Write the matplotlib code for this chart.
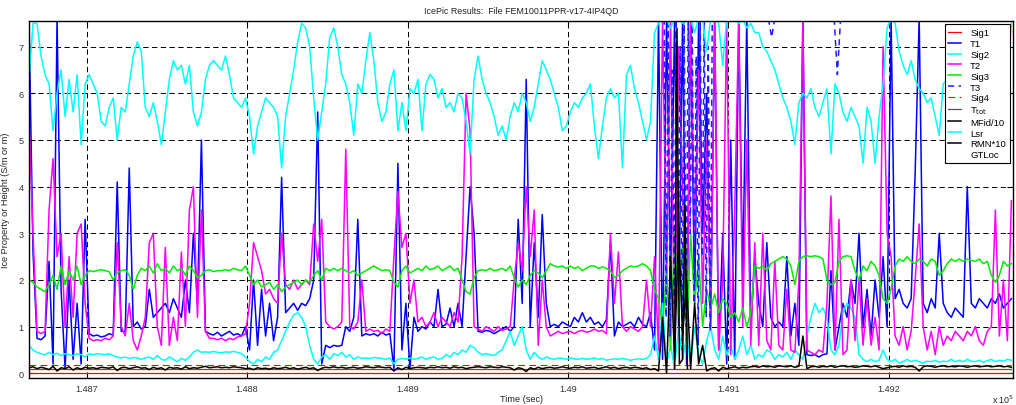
import numpy as np
import matplotlib
matplotlib.use("Agg")
import matplotlib.pyplot as plt
from matplotlib.ticker import FuncFormatter

plt.rcParams['font.family'] = ['Liberation Sans', 'DejaVu Sans']

# Sample grid (seconds)
t0 = 148664.0
dt = 2.5

lsr = [
    6.3, 7.5, 7.5, 6.8, 6.4, 6.2, 5.2, 6.0, 6.5, 5.5,
    6.3, 5.6, 6.4, 4.9, 6.2, 6.4, 6.2, 6.0, 5.4, 5.3,
    5.7, 5.9, 5.0, 5.7, 5.6, 6.2, 6.8, 7.1, 6.9, 5.7,
    5.5, 5.8, 5.4, 4.9, 5.6, 6.3, 6.7, 6.5, 6.6, 6.2,
    6.6, 5.6, 5.3, 5.6, 6.3, 6.6, 6.7, 6.6, 6.5, 6.8,
    6.4, 5.9, 5.8, 5.7, 5.9, 5.5, 4.7, 5.3, 5.6, 5.9,
    5.8, 5.7, 5.5, 4.4, 5.5, 6.0, 6.5, 7.1, 7.5, 7.4,
    7.0, 5.9, 5.0, 5.6, 6.2, 7.2, 7.4, 7.0, 6.4, 6.2,
    5.8, 5.1, 6.2, 6.0, 6.7, 7.3, 6.7, 5.8, 5.4, 5.6,
    6.2, 6.5, 5.2, 5.8, 5.2, 6.1, 6.0, 6.3, 5.2, 6.2,
    6.4, 6.3, 5.9, 6.1, 5.7, 5.8, 5.6, 6.0, 5.9, 5.4,
    4.7, 6.3, 6.8, 6.3, 6.0, 5.8, 5.5, 5.1, 5.3, 5.0,
    5.5, 5.8, 5.6, 6.0, 5.8, 5.4, 5.7, 6.2, 6.7, 6.5,
    6.3, 6.0, 5.7, 5.2, 5.3, 5.6, 5.8, 5.7, 5.9, 6.0,
    6.2, 5.3, 4.6, 5.3, 5.9, 6.1, 5.9, 6.0, 4.4, 6.4,
    6.6, 6.1, 5.8, 5.4, 5.0, 5.4, 7.3, 7.5, 7.6, 7.6,
    7.4, 7.6, 7.6, 7.5, 7.6, 7.6, 7.3, 7.6, 7.6, 6.9,
    7.6, 7.6, 7.5, 6.6, 7.6, 7.6, 7.6, 7.5, 7.6, 7.4,
    7.5, 7.3, 7.3, 7.0, 6.9, 6.7, 6.5, 6.2, 5.9, 5.7,
    5.4, 4.9, 5.8, 6.0, 5.9, 6.1, 5.7, 5.5, 5.8, 6.1,
    4.7, 6.2, 6.0, 5.6, 5.4, 5.7, 5.5, 5.3, 4.5, 5.7,
    5.4, 4.5, 5.5, 6.2, 7.4, 7.6, 7.5, 6.9, 6.6, 6.4,
    6.7, 6.3, 6.1, 6.0, 5.8, 5.9, 5.5, 5.1, 6.2, 6.3,
    5.9, 6.0, 5.8, 6.1, 5.9, 6.0, 5.7, 6.2, 6.0, 5.9,
    6.1, 5.8, 6.0, 6.0, 6.3, 7.5,
]

t2 = [
    5.4, 3.0, 0.9, 0.85, 0.9, 3.5, 4.6, 2.5, 3.0, 1.0,
    2.5, 1.2, 3.0, 3.2, 1.5, 0.75, 0.7, 0.72, 0.7, 0.75,
    0.72, 0.8, 2.8, 1.0, 0.8, 1.5, 0.7, 0.5, 0.8, 1.2,
    2.8, 3.0, 1.0, 0.6, 2.7, 0.6, 1.2, 0.7, 2.6, 1.0,
    3.5, 4.0, 1.2, 3.5, 0.9, 0.75, 0.75, 0.72, 0.75, 0.7,
    0.75, 0.72, 0.78, 0.8, 0.85, 1.5, 2.8, 2.5, 2.2, 1.7,
    1.8, 1.6, 1.5, 3.0, 1.9, 1.8, 2.0, 1.8, 1.9, 2.0,
    1.9, 3.2, 2.4, 3.3, 1.1, 1.0, 0.95, 1.0, 1.1, 4.8,
    1.0, 0.95, 1.1, 2.0, 0.9, 0.95, 0.9, 0.92, 0.85, 0.95,
    0.9, 2.5, 3.9, 2.7, 3.0, 1.5, 2.0, 1.1, 1.2, 1.0,
    1.1, 1.3, 1.0, 1.2, 1.1, 1.0, 1.3, 1.1, 2.5, 6.0,
    5.2, 1.0, 0.95, 0.9, 1.0, 0.95, 0.9, 1.0, 0.92, 0.95,
    1.0, 2.0, 2.8, 2.2, 4.0, 2.5, 3.5, 0.6, 2.0, 1.0,
    0.8, 0.85, 0.9, 0.85, 0.88, 0.9, 0.85, 0.9, 0.92, 0.88,
    0.9, 0.95, 0.9, 0.92, 0.85, 3.0, 1.5, 2.6, 1.0, 0.9,
    1.0, 0.95, 0.9, 1.0, 2.0, 1.0, 2.5, 0.5, 7.6, 2.0,
    7.6, 0.3, 7.0, 4.0, 0.5, 7.6, 3.0, 6.5, 1.5, 5.0,
    1.2, 7.6, 0.5, 2.0, 7.6, 0.4, 3.5, 7.6, 1.0, 5.0,
    0.6, 2.8, 0.6, 3.0, 0.7, 0.5, 2.4, 0.6, 0.5, 1.8,
    0.5, 0.45, 2.0, 7.6, 0.5, 0.45, 0.4, 0.5, 0.45, 1.5,
    3.8, 0.5, 3.3, 0.4, 0.5, 2.0, 0.7, 2.0, 0.6, 1.6,
    0.6, 1.2, 0.5, 7.0, 3.0, 2.5, 0.8, 0.6, 1.0, 0.5,
    0.9, 2.0, 3.2, 1.0, 0.5, 0.9, 0.4, 1.0, 0.6, 0.8,
    0.7, 0.9, 0.8, 0.7, 0.9, 0.8, 1.0, 0.7, 0.6, 0.9,
    1.0, 3.5, 0.8, 2.0, 0.7, 3.7,
]

t1 = [
    7.6, 2.6, 0.75, 0.72, 0.8, 2.4, 0.2, 7.6, 1.8, 0.1,
    2.0, 0.3, 1.5, 0.2, 3.3, 0.85, 0.8, 0.82, 0.78, 0.8,
    0.85, 0.82, 4.1, 0.9, 0.9, 4.4, 1.0, 1.1, 0.95, 1.0,
    1.8, 1.2, 1.3, 1.4, 1.5, 1.3, 1.6, 1.4, 1.2, 2.0,
    1.3, 3.0, 1.5, 5.0, 0.9, 0.85, 0.82, 0.88, 0.8, 0.85,
    0.9, 0.82, 0.85, 0.8, 1.0, 0.5, 2.0, 0.6, 1.8, 0.8,
    1.5, 0.7, 1.2, 4.2, 1.3, 1.4, 1.5, 1.35, 1.5, 1.45,
    1.6, 2.0, 5.6, 0.2, 0.6, 0.55, 0.6, 0.58, 0.6, 1.0,
    0.9, 1.2, 3.3, 0.8, 0.85, 0.82, 0.85, 0.8, 0.88, 0.82,
    0.85, 0.1, 4.5, 0.5, 1.5, 0.1, 1.2, 0.9, 1.0, 0.95,
    1.1, 1.0, 1.8, 1.0, 1.05, 1.4, 1.0, 1.5, 1.0, 2.5,
    4.0, 3.0, 0.9, 0.88, 0.92, 0.9, 0.85, 0.9, 0.95, 1.0,
    0.9, 1.0, 3.3, 1.5, 6.3, 1.0, 2.8, 1.2, 3.4, 1.5,
    1.0, 1.05, 1.0, 1.1, 1.05, 1.0, 1.2, 1.1, 1.3, 1.1,
    1.2, 1.05, 1.1, 1.0, 1.15, 2.8, 0.8, 1.1, 1.0, 1.05,
    1.1, 1.0, 1.2, 1.05, 1.0, 1.3, 0.5, 7.6, 0.3, 7.6,
    2.0, 7.6, 1.0, 7.6, 0.2, 7.6, 1.5, 7.6, 3.0, 6.0,
    1.0, 7.6, 0.5, 3.0, 0.2, 5.0, 0.3, 7.6, 2.0, 7.6,
    1.0, 2.5, 1.5, 1.0, 2.8, 1.2, 1.0, 1.1, 1.0, 2.5,
    0.8, 1.5, 0.6, 7.6, 0.4, 0.38, 0.4, 0.35, 0.4, 0.42,
    2.2, 0.5, 1.0, 1.5, 1.2, 2.0, 1.5, 3.0, 1.0, 1.8,
    0.8, 2.0, 1.2, 2.5, 1.0, 7.6, 1.6, 1.8, 1.5, 1.4,
    1.6, 4.3, 7.6, 1.5, 1.3, 1.6, 1.4, 3.0, 1.5, 1.3,
    1.2, 1.4, 1.3, 1.2, 4.0, 1.5, 1.4, 1.6, 1.5, 1.4,
    1.6, 1.5, 1.7, 1.4, 1.5, 1.6,
]

sig3 = [
    2.0, 1.95, 1.85, 1.8, 1.75, 1.9, 2.1, 1.8, 2.3, 1.9,
    2.2, 2.0, 2.3, 1.9, 2.1, 2.2, 2.18, 2.2, 2.22, 2.2,
    2.18, 2.0, 2.15, 2.2, 2.22, 2.1, 1.8, 2.1, 2.25, 2.2,
    2.3, 2.15, 2.35, 2.2, 2.25, 2.15, 2.3, 2.2, 2.25, 2.1,
    2.3, 2.2, 2.05, 2.1, 2.2, 2.22, 2.18, 2.2, 2.2, 2.22,
    2.2, 2.25, 2.22, 2.2, 2.3, 2.1, 1.9, 2.0, 1.85, 1.9,
    1.95, 1.8, 1.9, 1.75, 1.85, 1.9, 1.95, 2.0, 1.9, 2.0,
    1.95, 2.1, 2.2, 2.0, 2.25, 2.2, 2.25, 2.2, 2.25, 2.2,
    2.15, 2.2, 2.1, 2.15, 2.2, 2.25, 2.3, 2.25, 2.2, 2.22,
    2.2, 1.95, 1.85, 2.2, 2.3, 2.15, 2.2, 2.25, 2.2, 2.3,
    2.22, 2.25, 2.3, 2.2, 2.25, 2.3, 2.2, 2.25, 2.0, 1.75,
    1.7, 2.05, 2.2, 2.22, 2.2, 2.25, 2.2, 2.22, 2.25, 2.2,
    2.3, 2.05, 1.85, 2.0, 1.9, 2.1, 2.2, 2.15, 2.05, 2.2,
    2.35, 2.3, 2.28, 2.3, 2.25, 2.3, 2.25, 2.28, 2.2, 2.25,
    2.3, 2.3, 2.25, 2.28, 2.25, 2.2, 2.05, 2.1, 2.2, 2.25,
    2.3, 2.28, 2.3, 2.35, 2.3, 2.2, 1.8, 1.6, 1.0, 2.2,
    0.5, 3.0, 1.2, 2.8, 0.6, 3.0, 1.5, 2.5, 1.0, 1.8,
    1.4, 1.7, 1.3, 1.6, 1.5, 1.2, 1.3, 1.1, 1.4, 1.0,
    1.3, 2.3, 2.25, 2.3, 2.2, 2.35, 2.4, 2.45, 2.5, 2.45,
    2.3, 1.9, 2.4, 2.5, 2.52, 2.5, 2.52, 2.5, 2.45, 2.0,
    1.9, 1.95, 2.4, 2.5, 2.52, 2.5, 2.2, 2.0, 2.3, 2.2,
    2.4, 2.3, 2.1, 1.6, 1.5, 1.8, 2.3, 2.45, 2.4, 2.5,
    2.4, 2.35, 2.45, 2.4, 2.3, 2.45, 2.4, 2.1, 2.2, 2.35,
    2.45, 2.4, 2.45, 2.4, 2.45, 2.42, 2.4, 2.45, 2.35, 2.4,
    2.1, 1.95, 2.1, 2.4, 2.3, 2.35,
]

sig2 = [
    0.6, 0.5, 0.45, 0.42, 0.4, 0.45, 0.4, 0.43, 0.38, 0.42,
    0.4, 0.38, 0.42, 0.4, 0.35, 0.42, 0.4, 0.42, 0.41, 0.4,
    0.42, 0.38, 0.35, 0.33, 0.35, 0.32, 0.34, 0.33, 0.3, 0.33,
    0.35, 0.3, 0.38, 0.3, 0.28, 0.35, 0.3, 0.25, 0.32, 0.28,
    0.35, 0.45, 0.5, 0.45, 0.46, 0.45, 0.47, 0.45, 0.44, 0.46,
    0.45, 0.47, 0.45, 0.42, 0.35, 0.25, 0.2, 0.3, 0.25, 0.35,
    0.3, 0.45, 0.5, 0.7, 0.9, 1.1, 1.25, 1.3, 1.2, 1.0,
    0.6, 0.3, 0.2, 0.35, 0.4, 0.3, 0.42, 0.38, 0.45, 0.35,
    0.4, 0.3, 0.35, 0.32, 0.33, 0.32, 0.34, 0.33, 0.32, 0.3,
    0.33, 0.2, 0.3, 0.32, 0.3, 0.33, 0.3, 0.32, 0.35, 0.3,
    0.33, 0.35, 0.3, 0.32, 0.4, 0.35, 0.45, 0.4, 0.5, 0.45,
    0.6, 0.55, 0.45, 0.4, 0.42, 0.4, 0.38, 0.45, 0.5, 0.7,
    0.9, 0.6, 0.8, 1.0, 0.5, 0.3, 0.45, 0.35, 0.3, 0.35,
    0.32, 0.3, 0.33, 0.32, 0.3, 0.33, 0.31, 0.3, 0.32, 0.3,
    0.31, 0.33, 0.3, 0.32, 0.28, 0.3, 0.31, 0.3, 0.32, 0.3,
    0.28, 0.3, 0.31, 0.3, 0.32, 0.4, 0.8, 0.3, 1.5, 0.2,
    0.6, 0.1, 1.0, 0.3, 0.8, 0.2, 1.0, 0.4, 0.2, 0.7,
    1.0, 0.5, 0.3, 0.8, 0.4, 0.6, 0.3, 0.5, 0.8, 0.4,
    0.6, 0.3, 0.4, 0.35, 0.5, 0.45, 0.3, 0.4, 0.35, 0.45,
    0.3, 0.5, 0.4, 0.3, 0.8, 1.2, 1.5, 1.3, 1.4, 1.2,
    0.5, 0.4, 0.6, 1.3, 1.5, 1.4, 1.2, 0.4, 0.3, 0.25,
    0.3, 0.25, 0.28, 0.5, 0.3, 0.25, 0.3, 0.22, 0.25, 0.3,
    0.25, 0.28, 0.25, 0.22, 0.26, 0.25, 0.28, 0.24, 0.26, 0.25,
    0.3, 0.25, 0.28, 0.25, 0.3, 0.26, 0.25, 0.28, 0.24, 0.27,
    0.3, 0.25, 0.28, 0.26, 0.3, 0.28,
]

mfid10 = [
    0.12, 0.14, 0.1, 0.13, 0.11, 0.08, 0.15, 0.05, 0.12, 0.1,
    0.14, 0.07, 0.12, 0.09, 0.13, 0.11, 0.12, 0.1, 0.13, 0.12,
    0.11, 0.14, 0.06, 0.12, 0.13, 0.1, 0.12, 0.14, 0.11, 0.12,
    0.08, 0.13, 0.1, 0.12, 0.07, 0.13, 0.11, 0.12, 0.09, 0.14,
    0.1, 0.12, 0.11, 0.13, 0.15, 0.12, 0.13, 0.14, 0.12, 0.13,
    0.12, 0.14, 0.13, 0.12, 0.1, 0.11, 0.08, 0.12, 0.1, 0.11,
    0.09, 0.12, 0.1, 0.11, 0.13, 0.1, 0.12, 0.09, 0.11, 0.13,
    0.1, 0.12, 0.06, 0.11, 0.13, 0.12, 0.14, 0.12, 0.13, 0.11,
    0.12, 0.13, 0.11, 0.12, 0.14, 0.13, 0.12, 0.14, 0.13, 0.12,
    0.13, 0.05, 0.12, 0.08, 0.13, 0.1, 0.12, 0.13, 0.12, 0.11,
    0.13, 0.12, 0.14, 0.12, 0.13, 0.11, 0.14, 0.12, 0.13, 0.1,
    0.12, 0.13, 0.14, 0.13, 0.12, 0.14, 0.13, 0.12, 0.14, 0.13,
    0.12, 0.07, 0.12, 0.1, 0.04, 0.12, 0.09, 0.13, 0.1, 0.12,
    0.13, 0.11, 0.12, 0.14, 0.12, 0.11, 0.13, 0.12, 0.14, 0.11,
    0.12, 0.13, 0.1, 0.12, 0.14, 0.11, 0.13, 0.1, 0.12, 0.13,
    0.11, 0.13, 0.12, 0.1, 0.12, 0.08, 0.1, 0.05, 1.2, 0.0,
    2.5, 0.3, 3.2, 0.8, 2.0, 0.1, 1.5, 0.2, 0.6, 0.05,
    0.1, 0.12, 0.05, 0.13, 0.1, 0.12, 0.14, 0.11, 0.13, 0.12,
    0.14, 0.15, 0.13, 0.16, 0.14, 0.15, 0.13, 0.16, 0.15, 0.14,
    0.16, 0.13, 0.15, 0.8, 0.1, 0.14, 0.15, 0.13, 0.15, 0.14,
    0.16, 0.13, 0.15, 0.16, 0.14, 0.15, 0.13, 0.14, 0.16, 0.15,
    0.14, 0.16, 0.13, 0.1, 0.12, 0.14, 0.15, 0.13, 0.16, 0.14,
    0.15, 0.13, 0.05, 0.14, 0.16, 0.15, 0.13, 0.15, 0.16, 0.14,
    0.15, 0.14, 0.16, 0.15, 0.13, 0.15, 0.16, 0.14, 0.15, 0.16,
    0.14, 0.15, 0.16, 0.14, 0.15, 0.13,
]

# T3 bursts: a dense stretch sampled every 1.25 s, then two short pieces
t3_burst_start = 149060.0
t3_burst_step = 1.25
t3_burst = [7.6, 1.2, 7.6, 0.8, 6.5, 1.5, 7.6, 2.0, 7.0, 0.5, 7.6, 1.0, 7.6,
            3.0, 7.6, 1.5, 6.8, 0.6, 7.6, 2.5, 7.6, 1.2, 7.0, 0.9, 7.6]
t3_extra_time = [149125.0, 149127.0, 149129.0, 149166.0, 149168.0, 149170.0]
t3_extra = [7.6, 7.2, 7.6, 7.6, 6.4, 7.6]

rmn_time = [149066.5, 149068.0, 149069.5, 149071.5, 149073.0, 149074.5]
rmn10 = [0.1, 7.4, 0.2, 0.3, 3.6, 0.1]

sig1_level = 0.0
sig4_level = 0.18
ttot_level = 0.1

x_ticks = [148700, 148800, 148900, 149000, 149100, 149200]
y_ticks = [0, 1, 2, 3, 4, 5, 6, 7]

n = len(lsr)
t = t0 + dt * np.arange(n)

t3_t = np.concatenate([
    t3_burst_start + t3_burst_step * np.arange(len(t3_burst)), [np.nan],
    t3_extra_time[:3], [np.nan], t3_extra_time[3:]])
t3_v = np.concatenate([t3_burst, [np.nan], t3_extra[:3], [np.nan], t3_extra[3:]])

W, H = 1016, 406
fig = plt.figure(figsize=(W / 100, H / 100), dpi=100)
ax = fig.add_axes([29 / W, 1 - 379 / H, (1013 - 29) / W, (379 - 22) / H])

lw = 1.1
ax.plot(t, np.full(n, sig1_level), color='#ff0000', lw=0.9, label='Sig1')
ax.plot(t, t1, color='#0000ff', lw=lw, label='T1')
ax.plot(t, sig2, color='#00ffff', lw=lw, label='Sig2')
ax.plot(t, t2, color='#ff00ff', lw=lw, label='T2')
ax.plot(t, sig3, color='#00ee00', lw=lw, label='Sig3')
ax.plot(t3_t, t3_v, color='#2020ff', lw=lw, ls=(0, (4, 3)), label='T3')
ax.plot(t, np.full(n, sig4_level), color='#ff0000', lw=0.8, ls=(0, (6, 4)), label='Sig4')
ax.plot(t, np.full(n, ttot_level), color='#555555', lw=0.9, label='T$_{\\rm tot}$')
ax.plot(t, mfid10, color='k', lw=lw, label='MFid/10')
ax.plot(t, lsr, color='#00ffff', lw=lw, label='Lsr')
ax.plot(rmn_time, rmn10, color='k', lw=lw, label='RMN*10')
ax.plot([], [], ls='none', label='GTLoc')

ax.set_xlim(148664, 149277.5)
ax.set_ylim(-0.1, 7.55)
ax.set_xticks(x_ticks)
ax.set_yticks(y_ticks)
ax.xaxis.set_major_formatter(FuncFormatter(lambda v, p: f"{v / 1e5:g}"))

ax.set_axisbelow(True)
ax.grid(True, color='k', ls=(0, (5.5, 3.5)), lw=0.7)
ax.tick_params(direction='in', top=True, right=True, length=4, width=0.8,
               labelsize=6.6, pad=4, labelcolor='#333333')
for s in ax.spines.values():
    s.set_linewidth(1.0)

ax.set_title('IcePic Results:  File FEM10011PPR-v17-4IP4QD', fontsize=6.4,
             pad=6, color='#222222')
ax.set_xlabel('Time (sec)', fontsize=6.6, labelpad=1, color='#222222')
ax.set_ylabel('Ice Property or Height (S/m or m)', fontsize=6.6, labelpad=6,
              color='#222222')
fig.text(992 / W, 1 - 404 / H, 'x 10$^{5}$', fontsize=6.4, va='baseline',
         color='#222222')

leg = ax.legend(loc='upper right', fontsize=6.8, frameon=True, fancybox=False,
                edgecolor='k', framealpha=1, borderaxespad=0.35,
                handlelength=1.3, handletextpad=1.0, labelspacing=0.2,
                borderpad=0.4)
leg.get_frame().set_linewidth(0.8)

fig.savefig('out.png', dpi=100)
